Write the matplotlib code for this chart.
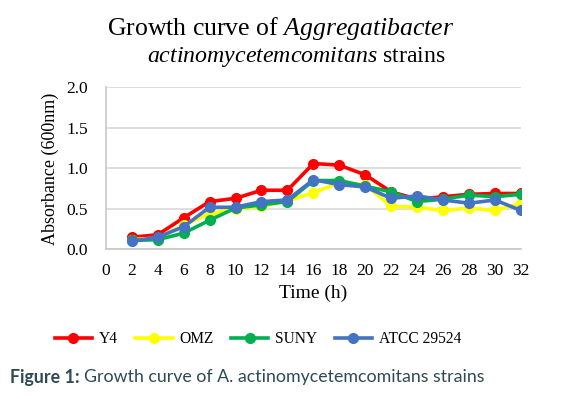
import matplotlib
matplotlib.use("Agg")
import matplotlib.pyplot as plt

plt.rcParams['mathtext.fontset'] = 'custom'
plt.rcParams['mathtext.rm'] = 'Liberation Serif'
plt.rcParams['mathtext.it'] = 'Liberation Serif:italic'

hours = [2, 4, 6, 8, 10, 12, 14, 16, 18, 20, 22, 24, 26, 28, 30, 32]
y4 = [0.15, 0.18, 0.39, 0.59, 0.63, 0.73, 0.73, 1.06, 1.04, 0.92, 0.71, 0.62, 0.65, 0.68, 0.69, 0.69]
omz = [0.12, 0.14, 0.30, 0.44, 0.50, 0.53, 0.60, 0.70, 0.82, 0.80, 0.53, 0.52, 0.48, 0.51, 0.48, 0.57]
suny = [0.11, 0.12, 0.20, 0.36, 0.51, 0.55, 0.59, 0.85, 0.85, 0.78, 0.71, 0.59, 0.62, 0.67, 0.65, 0.68]
atcc = [0.10, 0.15, 0.28, 0.52, 0.52, 0.59, 0.61, 0.86, 0.80, 0.77, 0.63, 0.66, 0.61, 0.57, 0.61, 0.48]
names = ['Y4', 'OMZ', 'SUNY', 'ATCC 29524']
colors = ['#ff0000', '#ffff00', '#00b050', '#4472c4']
xticks = list(range(0, 33, 2))

serif = 'Liberation Serif'
W, H = 575, 399

fig = plt.figure(figsize=(5.75, 3.99), dpi=100)
ax = fig.add_axes([0.184, 0.375, 0.722, 0.406])

for vals, name, c in zip([y4, omz, suny, atcc], names, colors):
    ax.plot(hours, vals, color=c, lw=2.6, marker='o', ms=7, label=name)

ax.set_xlim(0, 32)
ax.set_ylim(0, 2.0)
ax.set_xticks(xticks)
ax.set_yticks([0.0, 0.5, 1.0, 1.5, 2.0])
ax.set_yticklabels(['0.0', '0.5', '1.0', '1.5', '2.0'])
ax.grid(axis='y', color='#d9d9d9', lw=1.2)
ax.set_axisbelow(True)
for s in ['top', 'right']:
    ax.spines[s].set_visible(False)
for s in ['left', 'bottom']:
    ax.spines[s].set_color('#c8c8c8')
    ax.spines[s].set_linewidth(1.2)
ax.tick_params(length=0, labelsize=12.5)
ax.tick_params(axis='y', pad=13)
ax.tick_params(axis='x', pad=10)
for lbl in ax.get_xticklabels() + ax.get_yticklabels():
    lbl.set_fontfamily(serif)
ax.set_xlabel('Time (h)', fontfamily=serif, fontsize=14, labelpad=4)
ax.set_ylabel('Absorbance (600nm)', fontfamily=serif, fontsize=13, labelpad=5)

fig.text(281 / W, 1 - 28 / H, r"Growth curve of $\mathit{Aggregatibacter}$",
         ha='center', va='center', fontfamily=serif, fontsize=18.5)
fig.text(296 / W, 1 - 57 / H, r"$\mathit{actinomycetemcomitans}$ strains",
         ha='center', va='center', fontfamily=serif, fontsize=17.2)

fig.legend(loc='center', bbox_to_anchor=(258 / W, 1 - 339 / H), ncol=4, frameon=False,
           prop={'family': serif, 'size': 11.2}, handlelength=2.4, columnspacing=1.1,
           handletextpad=0.45)

cap_color = '#2e4a52'
t1 = fig.text(10 / W, 1 - 377 / H, 'Figure 1:', fontfamily='Lato', fontweight='bold',
              fontsize=12.8, color=cap_color, va='center', ha='left')
fig.canvas.draw()
bb = t1.get_window_extent(fig.canvas.get_renderer())
fig.text((bb.x1 + 4) / W, 1 - 377 / H, 'Growth curve of A. actinomycetemcomitans strains',
         fontfamily='Lato', fontsize=12.8, color=cap_color, va='center', ha='left')

fig.savefig('out.png', dpi=100)
